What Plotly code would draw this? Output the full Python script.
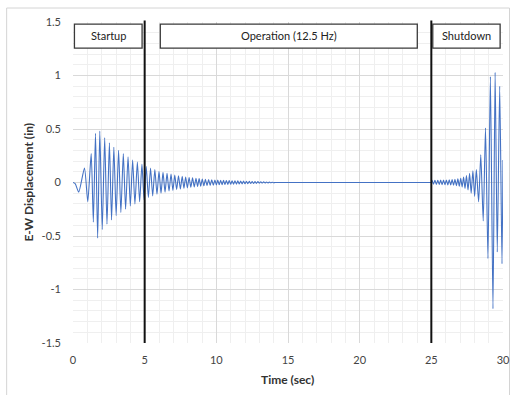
import plotly.graph_objects as go

# ---- data: extrema of the displacement trace ----
startup_t = [0.00, 0.15, 0.40, 0.80, 1.03, 1.27, 1.42, 1.57, 1.72, 1.87, 2.04, 2.21, 2.37, 2.54,
             2.69, 2.85, 3.01, 3.18, 3.34, 3.51, 3.67, 3.84, 4.00, 4.16, 4.32, 4.49, 4.65,
             4.81, 4.96, 5.11, 5.26]
startup_y = [0.00, -0.01, -0.09, 0.135, -0.18, 0.27, -0.37, 0.46, -0.52, 0.48, -0.44, 0.42, -0.39, 0.37,
             -0.35, 0.33, -0.31, 0.30, -0.28, 0.27, -0.25, 0.24, -0.22, 0.21, -0.20, 0.19, -0.18,
             0.17, -0.16, 0.15, -0.14]

decay_t = [5.41, 5.56, 5.71, 5.86, 6.00, 6.14, 6.28, 6.42, 6.56, 6.70, 6.84, 6.97, 7.10, 7.23,
           7.36, 7.49, 7.62, 7.74, 7.86, 7.98, 8.10, 8.22, 8.34, 8.46, 8.58, 8.69, 8.80, 8.91,
           9.02, 9.13, 9.24, 9.35, 9.46, 9.57, 9.68, 9.79, 9.90, 10.00,
           10.10, 10.20, 10.30, 10.40, 10.50, 10.60, 10.70, 10.80, 10.90, 11.00, 11.10, 11.20,
           11.30, 11.40, 11.50, 11.60, 11.70, 11.80, 11.90, 12.00, 12.10, 12.20, 12.30, 12.40,
           12.50, 12.60, 12.70, 12.80, 12.90, 13.00, 13.10, 13.20, 13.30, 13.40, 13.50, 13.60,
           13.70, 13.80, 13.90, 14.00, 14.10, 14.25, 24.90]
decay_y = [0.135, -0.125, 0.12, -0.11, 0.105, -0.10, 0.095, -0.09, 0.085, -0.08, 0.078, -0.074, 0.07, -0.066,
           0.063, -0.06, 0.057, -0.054, 0.052, -0.05, 0.047, -0.045, 0.043, -0.041, 0.039, -0.037, 0.036, -0.034,
           0.033, -0.031, 0.03, -0.029, 0.028, -0.027, 0.026, -0.025, 0.024, -0.023,
           0.022, -0.021, 0.021, -0.020, 0.020, -0.019, 0.019, -0.018, 0.018, -0.017, 0.017, -0.016,
           0.016, -0.015, 0.015, -0.014, 0.014, -0.013, 0.013, -0.012, 0.012, -0.011, 0.011, -0.010,
           0.010, -0.009, 0.009, -0.008, 0.008, -0.007, 0.007, -0.006, 0.006, -0.005, 0.005, -0.004,
           0.004, -0.003, 0.003, -0.002, 0.0, 0.0, 0.0]

shutdown_t = [25.00, 25.05, 25.15, 25.25, 25.35, 25.45, 25.55, 25.65, 25.75, 25.85, 25.95, 26.05,
              26.15, 26.25, 26.35, 26.45, 26.55, 26.65, 26.75, 26.85, 26.95, 27.05, 27.15, 27.25,
              27.35, 27.45, 27.56, 27.67, 27.78, 27.90, 28.02, 28.14, 28.30, 28.45, 28.62, 28.78,
              28.95, 29.12, 29.30, 29.45, 29.60, 29.77, 29.93, 30.00]
shutdown_y = [0.0, 0.02, -0.015, 0.02, -0.018, 0.02, -0.018, 0.022, -0.02, 0.022, -0.02, 0.024,
              -0.022, 0.025, -0.024, 0.027, -0.026, 0.03, -0.03, 0.034, -0.035, 0.04, -0.042, 0.05,
              -0.055, 0.065, -0.07, 0.085, -0.10, 0.11, -0.13, 0.12, -0.18, 0.26, -0.36, 0.51,
              -0.71, 0.99, -1.18, 1.03, -0.65, 0.90, -0.76, 0.21]

phase_labels = ["Startup", "Operation (12.5 Hz)", "Shutdown"]
phase_bounds = [5, 25]

x_ticks = [0, 5, 10, 15, 20, 25, 30]
y_ticks = [-1.5, -1, -0.5, 0, 0.5, 1, 1.5]
y_tick_text = ["-1.5", "-1", "-0.5", "0", "0.5", "1", "1.5"]

t = startup_t + decay_t + shutdown_t
y = startup_y + decay_y + shutdown_y

FONT = "Lato, 'Open Sans', sans-serif"
W, H = 516, 395
L, R, T, B = 72.5, 12.5, 22, 52
pw, ph = W - L - R, H - T - B


def px(x):
    return (x - L) / pw


def py(yy):
    return (H - B - yy) / ph


fig = go.Figure()
fig.add_trace(go.Scatter(x=t, y=y, mode="lines",
                         line=dict(color="#4472C4", width=1.1, shape="spline", smoothing=0.6),
                         hoverinfo="skip", showlegend=False))

shapes = []
# chart area border
shapes.append(dict(type="rect", xref="paper", yref="paper", x0=px(6), x1=px(510), y0=py(402), y1=py(8),
                   line=dict(color="#d4d4d4", width=1), layer="below"))
# phase boundary lines
for b in phase_bounds:
    shapes.append(dict(type="line", xref="x", yref="paper", x0=b, x1=b, y0=0, y1=1.005,
                       line=dict(color="#111111", width=2)))

# phase label boxes (data coords)
boxes = [(0.1, 4.82), (6.09, 24.02), (25.1, 29.8)]
annotations = []
for (x0, x1), lab in zip(boxes, phase_labels):
    shapes.append(dict(type="rect", xref="x", yref="y", x0=x0, x1=x1, y0=1.255, y1=1.48,
                       line=dict(color="#3a3a3a", width=1.3), fillcolor="white"))
    annotations.append(dict(x=(x0 + x1) / 2, y=1.37, xref="x", yref="y", text=lab, showarrow=False,
                            font=dict(family=FONT, size=11, color="#222222")))

annotations.append(dict(x=px(287), y=py(379), xref="paper", yref="paper", text="<b>Time (sec)</b>",
                        xanchor="center", yanchor="middle",
                        showarrow=False, font=dict(family=FONT, size=12, color="#333333")))
annotations.append(dict(x=px(27), y=py(182), xref="paper", yref="paper",
                        text="<b>E-W Displacement (in)</b>", textangle=-90,
                        xanchor="center", yanchor="middle",
                        showarrow=False, font=dict(family=FONT, size=12, color="#333333")))

fig.update_layout(
    width=W, height=H,
    margin=dict(l=L, r=R, t=T, b=B, autoexpand=False),
    paper_bgcolor="white", plot_bgcolor="white",
    shapes=shapes, annotations=annotations,
    font=dict(family=FONT, size=11, color="#444444"),
    xaxis=dict(range=[0, 30], tickvals=x_ticks, showgrid=True, gridcolor="#d9d9d9", gridwidth=1,
               minor=dict(dtick=1, showgrid=True, gridcolor="#efefef", gridwidth=1),
               zeroline=False, showline=False, ticks="", ticklabelstandoff=9, automargin=False,
               tickfont=dict(family=FONT, size=11, color="#444444")),
    yaxis=dict(range=[-1.5, 1.5], tickvals=y_ticks, ticktext=y_tick_text, showgrid=True,
               gridcolor="#d9d9d9", gridwidth=1,
               minor=dict(dtick=0.1, showgrid=True, gridcolor="#efefef", gridwidth=1),
               zeroline=False, showline=False, ticks="", ticklabelstandoff=11, automargin=False,
               tickfont=dict(family=FONT, size=11, color="#444444")),
)

fig.write_html("out.html", config={"displayModeBar": False},
               post_script="document.body.style.margin='0';document.body.style.overflow='hidden';")
